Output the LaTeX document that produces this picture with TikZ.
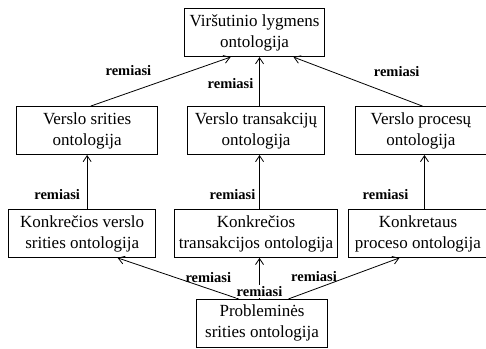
\documentclass[tikz,border=0pt]{standalone}
\usepackage{fontspec}
\setmainfont{Liberation Serif}
\usetikzlibrary{matrix,arrows.meta,positioning}
\tikzset{
    onto/.style={draw, line width=.9pt, align=center, anchor=center, inner xsep=3pt, inner ysep=2pt,
        minimum height=48pt, font=\fontsize{17}{21}\selectfont},
    rem/.style={font=\fontsize{14.5}{16}\selectfont\bfseries, inner sep=1pt}}
\newcommand{\rem}{remiasi}

\begin{document}
\begin{tikzpicture}[>={Straight Barb[length=6pt,width=8pt]}]
    \useasboundingbox (0,0) rectangle (486pt,-348pt);
    \matrix (m) [row sep=41pt, column sep=10pt, inner sep=0pt, anchor=north west] at (8pt,-8pt)
    {
        &[6pt] \node[onto, minimum width=140pt, xshift=-1.5pt] (top) {Viršutinio lygmens\\ontologija}; & \\[8pt]
        \node[onto, minimum width=141pt, xshift=5pt] (dom) {Verslo srities\\ontologija}; &
        \node[onto, minimum width=137pt] (trans) {Verslo transakcijų\\ontologija}; &
        \node[onto, minimum width=131pt, xshift=3pt] (proc) {Verslo procesų\\ontologija}; \\[13pt]
        \node[onto, minimum width=147pt] (cdom) {Konkrečios verslo\\srities ontologija}; &
        \node[onto, minimum width=163pt] (ctrans) {Konkrečios\\transakcijos ontologija}; &
        \node[onto, minimum width=139pt] (cproc) {Konkretaus\\proceso ontologija}; \\
        & \node[onto, minimum width=131pt, xshift=6pt] (prob) {Probleminės\\srities ontologija}; & \\
    };

    \path[->, line width=.8pt]
    ([xshift=3.5pt]dom.north) edge node[rem, pos=.27, yshift=22pt] {\rem} ([xshift=-24pt]top.south)
    ([xshift=3.5pt]trans.north) edge node[rem, pos=.46, xshift=-29pt] {\rem} ([xshift=5pt]top.south)
    ([xshift=1.5pt]proc.north) edge node[rem, pos=.2, yshift=25pt] {\rem} ([xshift=39pt]top.south)
    ([xshift=5pt]cdom.north) edge node[rem, pos=.26, xshift=-30pt] {\rem} (dom.south)
    ([xshift=3.5pt]ctrans.north) edge node[rem, pos=.26, xshift=-27pt] {\rem} ([xshift=3.5pt]trans.south)
    ([xshift=6.5pt]cproc.north) edge node[rem, pos=.26, xshift=-39pt] {\rem} ([xshift=3.5pt]proc.south)
    ([xshift=-23.5pt]prob.north) edge node[rem, pos=.25, yshift=11.5pt] {\rem} ([xshift=35.5pt]cdom.south)
    ([xshift=-2.5pt]prob.north) edge node[rem, pos=.18, fill=white] {\rem} ([xshift=3.5pt]ctrans.south)
    ([xshift=26.5pt]prob.north) edge node[rem, pos=.23, yshift=12.5pt] {\rem} ([xshift=-18.5pt]cproc.south);
\end{tikzpicture}
\end{document}
